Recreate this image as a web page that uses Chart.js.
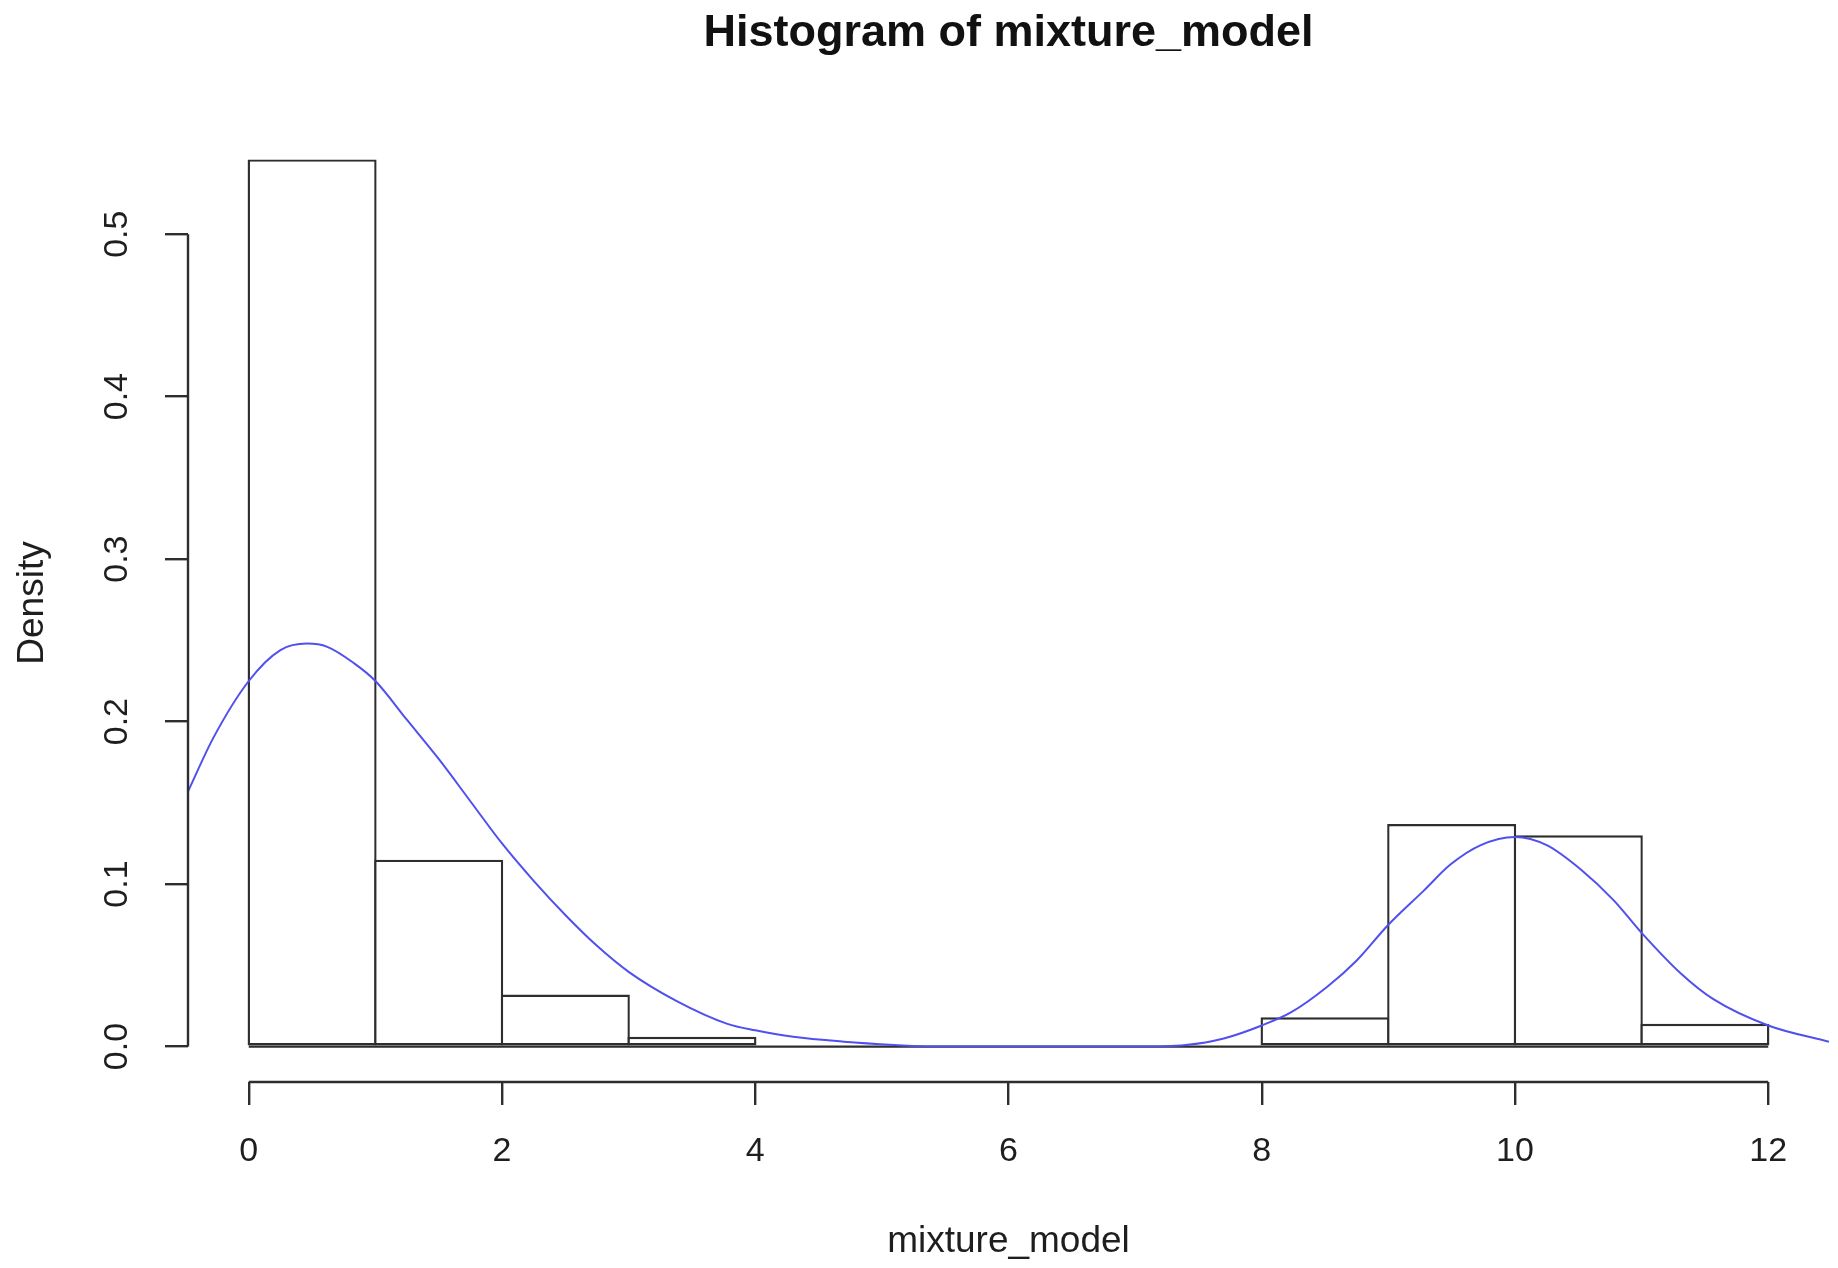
<!DOCTYPE html>
<html>
<head>
<meta charset="utf-8">
<title>Histogram of mixture_model</title>
<script src="https://cdn.jsdelivr.net/npm/chart.js@4.4.1/dist/chart.umd.min.js"></script>
<style>
  html, body { margin:0; padding:0; background:#fff; }
  #wrap { width:1838px; height:1268px; position:relative; }
</style>
</head>
<body>
<div id="wrap"><canvas id="hist"></canvas></div>
<script>
/* Histogram of mixture_model — R base-graphics look, drawn with Chart.js */

Chart.defaults.font.family = "'Liberation Sans', Arial, sans-serif";
Chart.defaults.color = '#1e1e1e';

// ── histogram (bin edges + density per bin) ──
const breaks  = [0, 1, 2, 3, 4, 5, 6, 7, 8, 9, 10, 11, 12];
const density = [0.546, 0.115, 0.032, 0.006, 0, 0, 0, 0, 0.018, 0.137, 0.130, 0.014];

// ── overlaid density curve ──
const curveX = [-0.48, -0.28, 0, 0.25, 0.46, 0.62, 0.83, 1.0, 1.25, 1.5, 1.75, 2.0, 2.25, 2.5, 2.75, 3.0,
                3.38, 3.78, 4.0, 4.3, 4.7, 5.1, 5.4, 7.0, 7.4, 7.7, 8.0, 8.23, 8.52, 8.75, 9.0,
                9.28, 9.49, 9.73, 10.0, 10.25, 10.52, 10.78, 11.0, 11.31, 11.57, 12.0, 12.48];
const curveY = [0.157, 0.190, 0.225, 0.244, 0.248, 0.246, 0.236, 0.225, 0.201, 0.177, 0.151, 0.125, 0.102, 0.081, 0.062, 0.046,
                0.028, 0.014, 0.010, 0.006, 0.003, 0.001, 0, 0, 0.001, 0.005, 0.013, 0.021, 0.037, 0.053, 0.075,
                0.096, 0.112, 0.124, 0.129, 0.124, 0.109, 0.090, 0.070, 0.045, 0.029, 0.013, 0.003];

// ── axes ──
const xTicks = [0, 2, 4, 6, 8, 10, 12];
const yTicks = [0, 0.1, 0.2, 0.3, 0.4, 0.5];
const xRange = [-0.48, 12.48];
const yRange = [-0.0218, 0.5678];

const INK  = '#2e2e2e';
const BLUE = 'rgb(80,80,238)';
const LW   = 2.4;

// R draws the axis line only between the first and last tick
const rAxes = {
    id: 'rAxes',
    afterDatasetsDraw(chart) {
        const {ctx, scales: {x, y}} = chart;
        ctx.save();
        ctx.strokeStyle = INK;
        ctx.lineWidth = LW;
        ctx.beginPath();
        ctx.moveTo(x.getPixelForValue(xTicks[0]), x.top);
        ctx.lineTo(x.getPixelForValue(xTicks[xTicks.length - 1]), x.top);
        ctx.moveTo(y.right, y.getPixelForValue(yTicks[0]));
        ctx.lineTo(y.right, y.getPixelForValue(yTicks[yTicks.length - 1]));
        ctx.stroke();
        ctx.restore();
    }
};

const bars     = density.map((d, i) => ({x: (breaks[i] + breaks[i + 1]) / 2, y: d}));
const baseline = [{x: breaks[0], y: 0}, {x: breaks[breaks.length - 1], y: 0}];
const curve    = curveX.map((x, i) => ({x, y: curveY[i]}));

const tickGrid = {drawOnChartArea: false, drawTicks: true, tickLength: 23, tickColor: INK, tickWidth: LW,
                  color: INK, lineWidth: LW, offset: false};

new Chart(document.getElementById('hist'), {
    type: 'bar',
    data: {
        datasets: [
            {type: 'line', data: curve, borderColor: BLUE, borderWidth: 2, pointRadius: 0,
             cubicInterpolationMode: 'monotone', order: 0},
            // slight overlap so neighbouring bars share one edge line, as in R
            {type: 'bar', data: bars, backgroundColor: '#fff', borderColor: INK, borderWidth: LW,
             borderSkipped: false, barPercentage: 1.019, categoryPercentage: 1, grouped: false, order: 1},
            {type: 'line', data: baseline, borderColor: INK, borderWidth: LW, pointRadius: 0, order: 2}
        ]
    },
    options: {
        responsive: true,
        maintainAspectRatio: false,
        animation: false,
        layout: {padding: {left: 0, top: 0, right: 9, bottom: 0}},
        plugins: {
            legend: {display: false},
            tooltip: {enabled: false},
            title: {
                display: true, text: 'Histogram of mixture_model', fullSize: false,
                color: '#111', font: {size: 45, weight: 'bold'},
                padding: {top: 7, bottom: 63}
            }
        },
        scales: {
            x: {
                type: 'linear', position: 'bottom', min: xRange[0], max: xRange[1], offset: false,
                afterBuildTicks: s => { s.ticks = xTicks.map(v => ({value: v})); },
                afterFit: s => { s.height = 186; },
                grid: tickGrid,
                border: {display: false},
                ticks: {font: {size: 34}, padding: 26, maxRotation: 0, autoSkip: false},
                title: {display: true, text: 'mixture_model', font: {size: 37}, padding: {top: 0, bottom: 4}}
            },
            y: {
                type: 'linear', position: 'left', min: yRange[0], max: yRange[1],
                afterBuildTicks: s => { s.ticks = yTicks.map(v => ({value: v})); },
                afterFit: s => { s.width = 188; },
                grid: tickGrid,
                border: {display: false},
                ticks: {font: {size: 34}, padding: 24, minRotation: 90, maxRotation: 90,
                        crossAlign: 'center', autoSkip: false, callback: v => v.toFixed(1)},
                title: {display: true, text: 'Density', font: {size: 37}, padding: {top: 11, bottom: 0}}
            }
        }
    },
    plugins: [rAxes]
});
</script>
</body>
</html>
